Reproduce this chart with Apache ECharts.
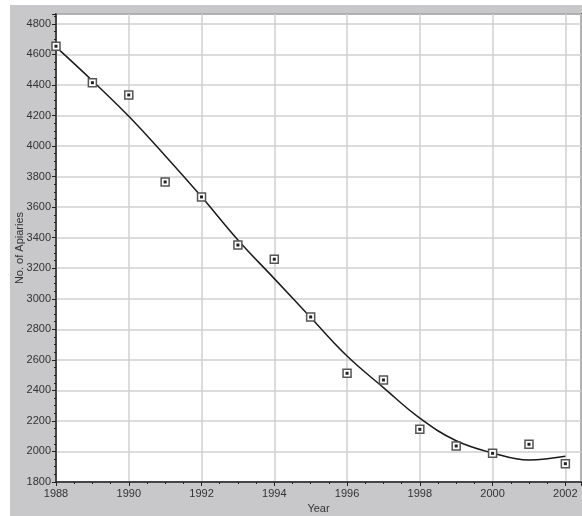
<!DOCTYPE html>
<html>
<head>
<meta charset="utf-8">
<script src="https://cdn.jsdelivr.net/npm/echarts@6/dist/echarts.min.js"></script>
<style>
html,body{margin:0;padding:0;background:#fff;width:582px;height:516px;overflow:hidden;}
#chart{position:absolute;left:10px;top:5px;width:572px;height:511px;}
</style>
</head>
<body>
<div id="chart"></div>
<script>
// Observed data: number of apiaries by year
var years = [1988, 1989, 1990, 1991, 1992, 1993, 1994, 1995, 1996, 1997, 1998, 1999, 2000, 2001, 2002];
var apiaries = [4654, 4415, 4335, 3765, 3667, 3352, 3259, 2881, 2512, 2468, 2145, 2036, 1988, 2047, 1920];
// Fitted trend curve
var trendYears = [1988, 1989, 1990, 1991, 1992, 1993, 1994, 1995, 1996, 1997, 1998, 1999, 2000, 2001, 2002];
var trendValues = [4650, 4428, 4195, 3937, 3668, 3385, 3132, 2877, 2625, 2418, 2218, 2070, 1990, 1944, 1968];
var xTitle = 'Year';
var yTitle = 'No. of Apiaries';

var pts = years.map(function (y, i) { return [y, apiaries[i]]; });
var trend = trendYears.map(function (y, i) { return [y, trendValues[i]]; });

var font = "'Liberation Sans', Arial, Helvetica, sans-serif";
var chart = echarts.init(document.getElementById('chart'));
chart.setOption({
  backgroundColor: '#c8c8ca',
  animation: false,
  grid: {
    left: 46, top: 9, right: 1, bottom: 34,
    containLabel: false, outerBoundsMode: 'none',
    show: true, backgroundColor: '#ffffff', borderColor: '#222', borderWidth: 1.5
  },
  graphic: [{
    type: 'text', x: 10, y: 243, rotation: Math.PI / 2, silent: true,
    style: { text: yTitle, fill: '#333', font: '11px ' + font, align: 'center', verticalAlign: 'middle' }
  }],
  xAxis: {
    type: 'value', min: 1988, max: 2002.43, interval: 2,
    name: xTitle, nameLocation: 'middle', nameGap: 20,
    nameTextStyle: { color: '#333', fontSize: 11, fontFamily: font },
    axisLine: { show: true, lineStyle: { color: '#222', width: 1.5 } },
    axisTick: { show: true, length: 4, lineStyle: { color: '#222' } },
    minorTick: { show: true, splitNumber: 4, length: 2, lineStyle: { color: '#222' } },
    axisLabel: {
      color: '#333', fontSize: 11, fontFamily: font, margin: 6,
      formatter: function (v) { return (Math.abs(v - Math.round(v)) < 1e-6 && Math.round(v) % 2 === 0) ? String(Math.round(v)) : ''; }
    },
    splitLine: { show: true, lineStyle: { color: '#d0d0d0', width: 1.5 } }
  },
  yAxis: {
    type: 'value', min: 1800, max: 4865, interval: 200,
    axisLine: { show: true, lineStyle: { color: '#222', width: 1.5 } },
    axisTick: { show: true, length: 4, lineStyle: { color: '#222' } },
    minorTick: { show: true, splitNumber: 4, length: 2, lineStyle: { color: '#222' } },
    axisLabel: {
      color: '#333', fontSize: 11, fontFamily: font, margin: 5,
      formatter: function (v) { return (v % 200 === 0) ? String(v) : ''; }
    },
    splitLine: { show: true, lineStyle: { color: '#d0d0d0', width: 1.5 } }
  },
  series: [
    {
      type: 'line', data: trend, smooth: 0.4, symbol: 'none',
      lineStyle: { color: '#1a1a1a', width: 1.5 }, z: 3
    },
    {
      type: 'scatter', data: pts, symbol: 'rect', symbolSize: 8,
      itemStyle: { color: '#ffffff', borderColor: '#555', borderWidth: 1.5, opacity: 1 }, z: 4
    },
    {
      type: 'scatter', data: pts, symbol: 'rect', symbolSize: 3,
      itemStyle: { color: '#222', opacity: 1 }, z: 5
    }
  ]
});
</script>
</body>
</html>
